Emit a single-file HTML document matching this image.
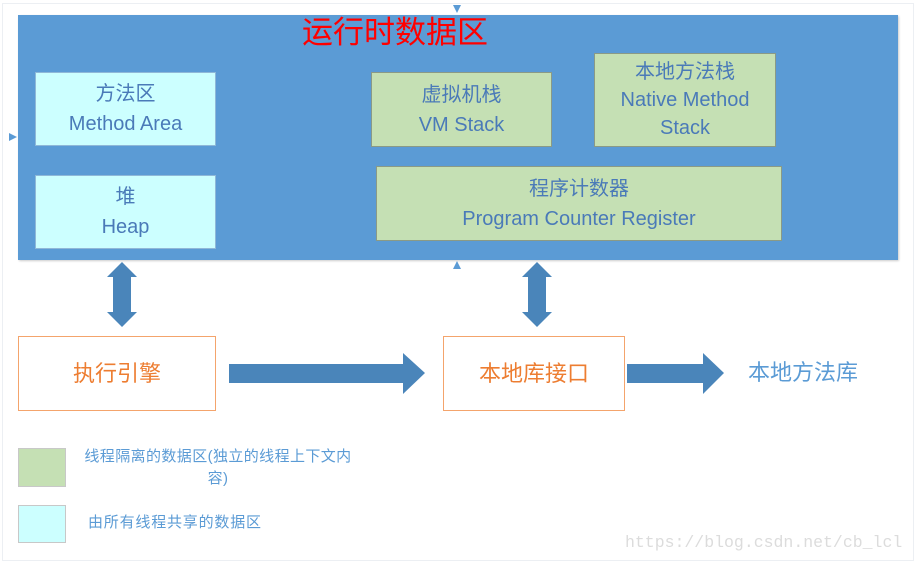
<!DOCTYPE html>
<html><head><meta charset="utf-8"><style>
body{margin:0;width:916px;height:563px;background:#fff;position:relative;overflow:hidden;font-family:"Liberation Sans","Noto Sans CJK SC",sans-serif}
.a{position:absolute;box-sizing:border-box}
.c{display:flex;flex-direction:column;align-items:center;justify-content:center;text-align:center;color:#4a7ab8;font-size:20px;line-height:30px}
.cy{background:#ccffff;border:1px solid #8fb8d8}
.gr{background:#c5e0b4;border:1px solid #8a9a86}
.or{background:#fff;border:1.5px solid #f4a46c;color:#ed7d31;font-size:22px}
</style></head><body>
<div class="a" style="left:2px;top:3px;width:912px;height:558px;border:1px solid #eceff3"></div>
<div class="a" style="left:18px;top:15px;width:880px;height:245px;background:#5b9bd5;box-shadow:1px 1px 2px #ccc"></div>
<div class="a" style="left:302px;top:13px;font-size:31px;color:#ff0000;line-height:40px">运行时数据区</div>
<div class="a c cy" style="left:35px;top:72px;width:181px;height:74px">方法区<br>Method Area</div>
<div class="a c cy" style="left:35px;top:175px;width:181px;height:74px">堆<br>Heap</div>
<div class="a c gr" style="left:371px;top:72px;width:181px;height:75px">虚拟机栈<br>VM Stack</div>
<div class="a c gr" style="left:594px;top:53px;width:182px;height:94px;line-height:28px">本地方法栈<br>Native Method<br>Stack</div>
<div class="a c gr" style="left:376px;top:166px;width:406px;height:75px">程序计数器<br>Program Counter Register</div>
<div class="a c or" style="left:18px;top:336px;width:198px;height:75px">执行引擎</div>
<div class="a c or" style="left:443px;top:336px;width:182px;height:75px">本地库接口</div>
<div class="a" style="left:748px;top:358px;font-size:22px;color:#5b9bd5;line-height:30px">本地方法库</div>
<svg class="a" style="left:0;top:0" width="916" height="563">
<g fill="#4a85ba">
<polygon points="122,262 137,277 131,277 131,312 137,312 122,327 107,312 113,312 113,277 107,277"/>
<polygon points="537,262 552,277 546,277 546,312 552,312 537,327 522,312 528,312 528,277 522,277"/>
<polygon points="229,364 403,364 403,353 425,373 403,394 403,383 229,383"/>
<polygon points="627,364 703,364 703,353 724,373 703,394 703,383 627,383"/>
</g>
<g fill="#5b9bd5"><polygon points="453,5 461,5 457,13"/><polygon points="453,269 461,269 457,261"/><polygon points="9,133 9,141 17,137"/></g>
</svg>
<div class="a" style="left:18px;top:448px;width:48px;height:39px;background:#c5e0b4;border:1px solid #c8c8c8"></div>
<div class="a" style="left:18px;top:505px;width:48px;height:38px;background:#ccffff;border:1px solid #c8c8c8"></div>
<div class="a" style="left:77px;top:446px;width:282px;font-size:15px;letter-spacing:0.4px;color:#5b9bd5;line-height:22px;text-align:center;white-space:nowrap">线程隔离的数据区(独立的线程上下文内<br>容)</div>
<div class="a" style="left:88px;top:513px;font-size:15px;letter-spacing:0.8px;color:#5b9bd5;line-height:20px">由所有线程共享的数据区</div>
<div class="a" style="left:625px;top:533px;font-family:'Liberation Mono',monospace;font-size:16.5px;color:#dcdcdc">https://blog.csdn.net/cb_lcl</div>
</body></html>
